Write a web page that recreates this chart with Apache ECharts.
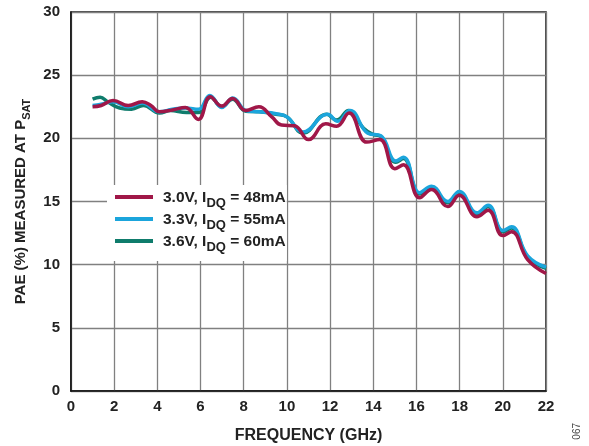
<!DOCTYPE html>
<html>
<head>
<meta charset="utf-8">
<script src="https://cdn.jsdelivr.net/npm/echarts@6/dist/echarts.min.js"></script>
<style>html,body{margin:0;padding:0;background:#fff;overflow:hidden}#c{width:589px;height:446px}</style>
</head>
<body>
<div id="c"></div>
<script>
// Series data: [frequency GHz, PAE %]
const red30 = [[1.0,22.5],[1.4,22.6],[1.95,23.0],[2.65,22.6],[3.3,22.9],[3.7,22.6],[4.1,22.1],[4.7,22.25],[5.3,22.45],[5.9,21.5],[6.45,23.3],[6.98,22.55],[7.48,23.15],[8.1,22.2],[8.7,22.5],[9.3,21.7],[9.75,21.05],[10.35,21.0],[11.0,19.9],[11.8,21.15],[12.3,20.95],[12.88,22.0],[13.7,19.7],[14.3,19.9],[15.0,17.6],[15.4,17.9],[16.15,15.3],[16.7,15.95],[17.45,14.6],[17.98,15.5],[18.8,13.8],[19.32,14.3],[20.0,12.3],[20.4,12.6],[21.15,10.4],[22.0,9.3]];
const blue33 = [[1.0,22.6],[1.4,22.7],[1.95,22.9],[2.65,22.5],[3.3,22.8],[4.1,22.1],[4.7,22.3],[5.3,22.4],[5.9,22.3],[6.43,23.4],[6.98,22.45],[7.5,23.2],[8.1,22.2],[8.7,22.1],[9.5,21.95],[10.0,21.7],[10.75,20.5],[11.88,21.9],[12.35,21.35],[12.92,22.2],[13.75,20.4],[14.35,20.2],[15.05,18.2],[15.4,18.5],[16.15,15.7],[16.7,16.2],[17.45,15.0],[17.98,15.8],[18.8,14.1],[19.32,14.7],[20.0,12.7],[20.4,13.0],[21.15,10.7],[22.0,9.8]];
const teal36 = [[1.0,23.1],[1.35,23.25],[1.7,22.9],[2.25,22.4],[2.8,22.3],[3.35,22.6],[4.1,22.0],[4.6,22.2],[5.35,22.05],[5.9,22.05],[6.47,23.25],[6.98,22.5],[7.48,23.1],[8.1,22.15],[8.75,22.1],[9.5,21.9],[10.0,21.7],[10.75,20.4],[11.84,21.9],[12.3,21.45],[12.86,22.2],[13.55,20.8],[14.0,20.3],[14.35,20.15],[15.05,18.1],[15.4,18.4],[16.15,15.6],[16.7,16.1],[17.45,14.9],[17.98,15.7],[18.8,14.0],[19.32,14.6],[20.0,12.6],[20.4,12.9],[21.15,10.6],[22.0,9.7]];
const seriesNames = ['3.0V, IDQ = 48mA','3.3V, IDQ = 55mA','3.6V, IDQ = 60mA'];
const legendParts = [['3.0V, I','DQ',' = 48mA'],['3.3V, I','DQ',' = 55mA'],['3.6V, I','DQ',' = 60mA']];
const xTicks = {min:0,max:22,interval:2};
const yTicks = {min:0,max:30,interval:5};

const FONT = 'Liberation Sans, Arial, sans-serif';
const chart = echarts.init(document.getElementById('c'), null, {renderer:'canvas'});
const mk = (name, data, color) => ({
  name, type:'line', data, smooth:0.45, showSymbol:false, symbol:'none',
  lineStyle:{color, width:3.5}, itemStyle:{color}, z:3
});
chart.setOption({
  animation:false,
  backgroundColor:'#fff',
  grid:{left:71,right:43,top:12,bottom:55,containLabel:false,outerBoundsMode:'none',show:true,borderColor:'#111',borderWidth:1.5,backgroundColor:'transparent'},
  xAxis:{type:'value',min:xTicks.min,max:xTicks.max,interval:xTicks.interval,
    name:'FREQUENCY (GHz)',nameLocation:'middle',nameGap:37,
    nameTextStyle:{fontFamily:FONT,fontWeight:'bold',fontSize:16,color:'#222'},
    axisLine:{show:true,lineStyle:{color:'#111',width:1.5}},axisTick:{show:false},
    axisLabel:{fontFamily:FONT,fontWeight:'bold',fontSize:15,color:'#222',margin:8},
    splitLine:{show:true,lineStyle:{color:'#808080',width:1.3}}},
  yAxis:{type:'value',min:yTicks.min,max:yTicks.max,interval:yTicks.interval,
    name:'{a|PAE (%) MEASURED AT P}{s|SAT}',nameLocation:'middle',nameGap:43,nameRotate:90,
    nameTextStyle:{rich:{
      a:{fontFamily:FONT,fontWeight:'bold',fontSize:15,color:'#222',verticalAlign:'bottom',lineHeight:18},
      s:{fontFamily:FONT,fontWeight:'bold',fontSize:11,color:'#222',verticalAlign:'bottom',lineHeight:18,padding:[0,0,-4,0]}}},
    axisLine:{show:true,lineStyle:{color:'#111',width:1.5}},axisTick:{show:false},
    axisLabel:{fontFamily:FONT,fontWeight:'bold',fontSize:15,color:'#222',margin:11},
    splitLine:{show:true,lineStyle:{color:'#808080',width:1.3}}},
  legend:{orient:'vertical',left:107,top:185,backgroundColor:'#fff',padding:[5,1,7,8],
    itemGap:2,itemWidth:38,itemHeight:4,icon:'rect',
    data:seriesNames,
    formatter:(n)=>{const p=legendParts[seriesNames.indexOf(n)];return '{a|'+p[0]+'}{s|'+p[1]+'}{b|'+p[2]+'}';},
    textStyle:{rich:{
      a:{fontFamily:FONT,fontWeight:'bold',fontSize:15.5,color:'#222',verticalAlign:'bottom',lineHeight:18,padding:[0,0,0,5]},
      b:{fontFamily:FONT,fontWeight:'bold',fontSize:15.5,color:'#222',verticalAlign:'bottom',lineHeight:18},
      s:{fontFamily:FONT,fontWeight:'bold',fontSize:13,color:'#222',verticalAlign:'bottom',lineHeight:18,padding:[0,0,-4,0]}}}},
  graphic:[{type:'text',left:572,top:423,rotation:Math.PI/2,style:{text:'067',fontFamily:FONT,fontSize:10,fill:'#444'}}],
  series:[mk(seriesNames[2],teal36,'#0f7c6c'),mk(seriesNames[1],blue33,'#1ba5dc'),mk(seriesNames[0],red30,'#a01748')]
});
</script>
</body>
</html>
